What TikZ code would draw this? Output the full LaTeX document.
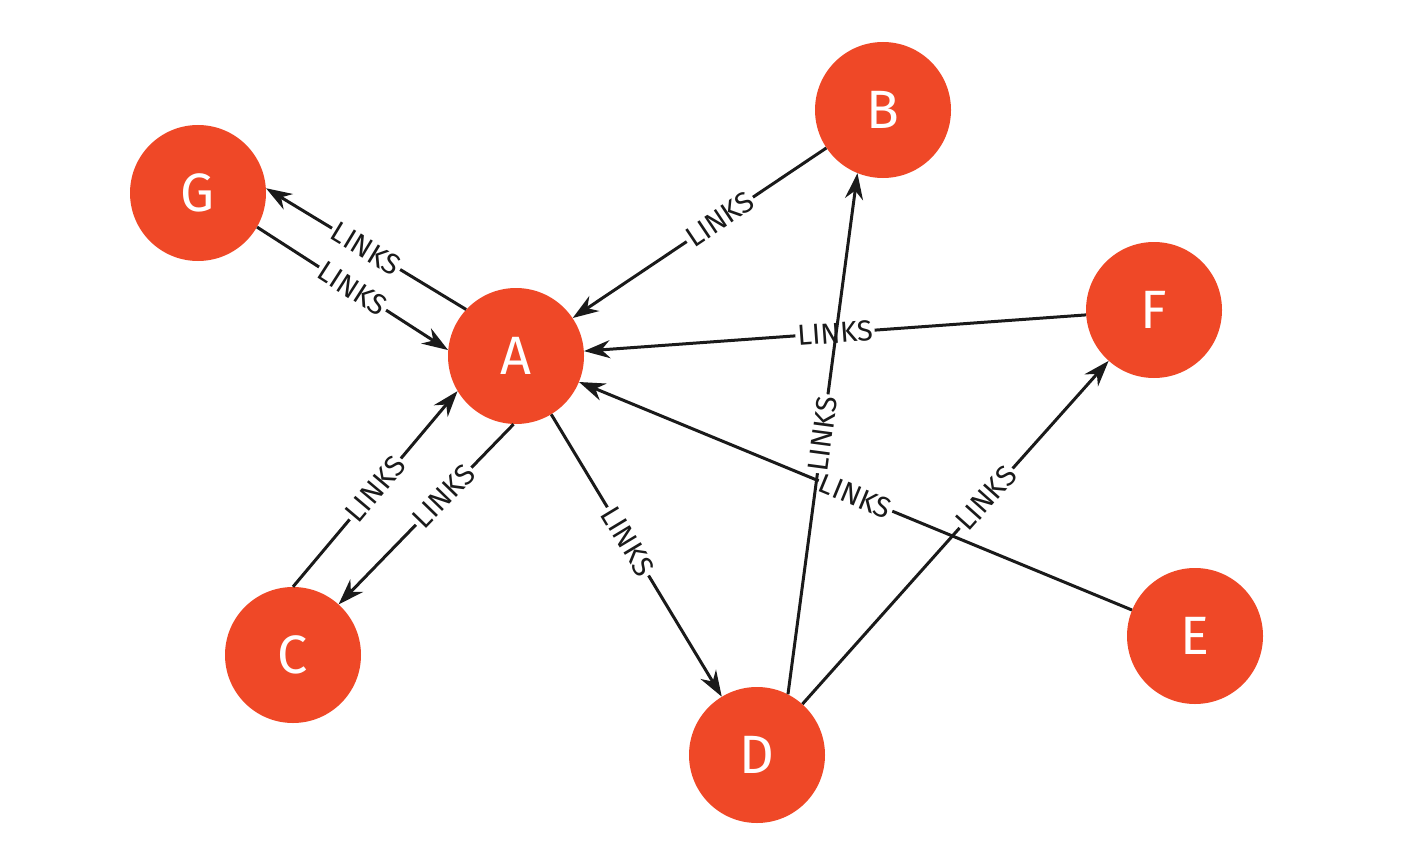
\documentclass[tikz,border=0pt]{standalone}
\usepackage{fontspec}
\setmainfont{Fira Sans}
\usetikzlibrary{arrows.meta}
\definecolor{nodered}{HTML}{EF4827}
\definecolor{edgeblk}{HTML}{1A1A1A}
\begin{document}
\begin{tikzpicture}[x=1pt,y=-1pt,
  vertex/.style={circle,fill=nodered,minimum size=136pt,inner sep=0pt,text=white,font=\fontsize{54}{54}\selectfont},
  link/.style={draw=edgeblk,line width=3pt,-{Stealth[length=26pt,width=18pt]}},
  lbl/.style={sloped,fill=white,inner sep=2pt,text=edgeblk,font=\fontsize{29}{29}\selectfont}]
\useasboundingbox (0,0) rectangle (1418,864);
\node[vertex] (A) at (516,356) {A};
\node[vertex] (B) at (883,110) {B};
\node[vertex] (G) at (198,193) {G};
\node[vertex] (F) at (1154,310) {F};
\node[vertex] (C) at (293,655) {C};
\node[vertex] (D) at (757,755) {D};
\node[vertex] (E) at (1195,636) {E};
\draw[link] (A.137) -- node[lbl]{LINKS} (G.4);
\draw[link] (G.-30) -- node[lbl]{LINKS} (A.175);
\draw[link] (B) -- node[lbl,pos=0.42]{LINKS} (A);
\draw[link] (F) -- node[lbl]{LINKS} (A);
\draw[link] (E) -- node[lbl]{LINKS} (A);
\draw[link] (D.63) -- node[lbl,pos=0.5]{LINKS} (B.248);
\draw[link] (D) -- node[lbl,pos=0.6]{LINKS} (F);
\draw[link] (A) -- node[lbl,pos=0.45]{LINKS} (D);
\draw[link] (C.90) -- node[lbl]{LINKS} (A.211);
\draw[link] (A.-92) -- node[lbl,pos=0.4]{LINKS} (C.48);
\end{tikzpicture}
\end{document}
